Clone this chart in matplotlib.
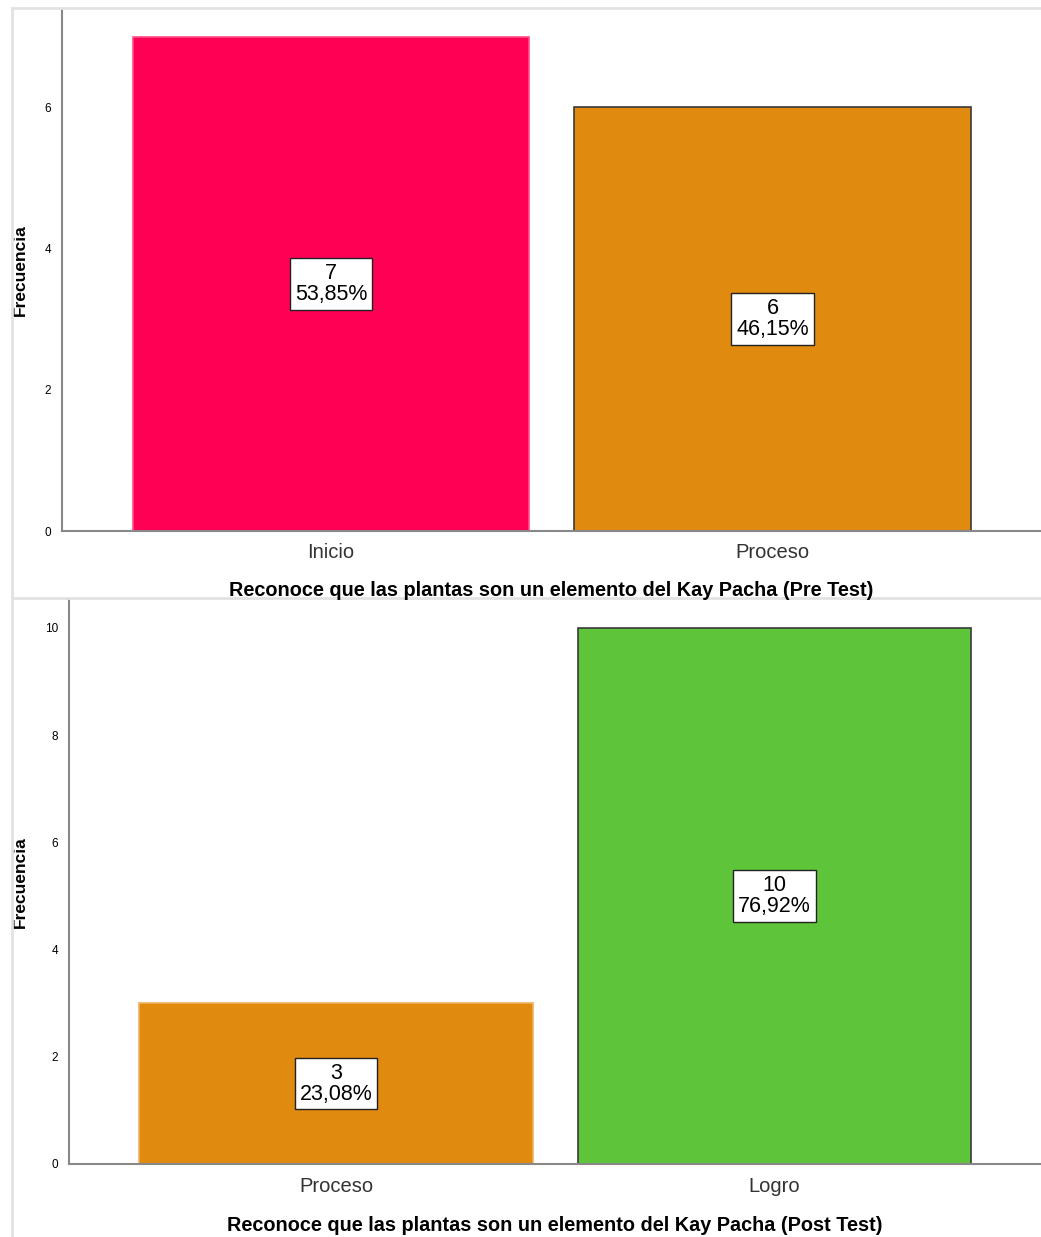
import matplotlib
matplotlib.use("Agg")
import matplotlib.pyplot as plt
from matplotlib.lines import Line2D

plt.rcParams["font.family"] = ["Liberation Sans", "DejaVu Sans"]

# Datos
pre_categorias = ["Inicio", "Proceso"]
pre_frecuencias = [7, 6]
pre_porcentajes = ["53,85%", "46,15%"]
pre_colores = ["#FF0054", "#E08A10"]
pre_bordes = ["#FF4D85", "#3A3A3A"]
pre_titulo = "Reconoce que las plantas son un elemento del Kay Pacha (Pre Test)"

post_categorias = ["Proceso", "Logro"]
post_frecuencias = [3, 10]
post_porcentajes = ["23,08%", "76,92%"]
post_colores = ["#E08A10", "#5EC43A"]
post_bordes = ["#F0B060", "#3A3A3A"]
post_titulo = "Reconoce que las plantas son un elemento del Kay Pacha (Post Test)"

W, H = 1041, 1237
fig = plt.figure(figsize=(W / 100, H / 100), dpi=100)

# Marcos grises de los paneles
gris = "#E2E2E2"
fig.add_artist(Line2D([12 / W, 12 / W], [0, 1 - 8 / H], color=gris, lw=2))
fig.add_artist(Line2D([12 / W, 1], [1 - 8 / H, 1 - 8 / H], color=gris, lw=2))
fig.add_artist(Line2D([12 / W, 1], [1 - 598 / H, 1 - 598 / H], color=gris, lw=2))


def caja(px_left, px_top, px_right, px_bottom):
    return [px_left / W, 1 - px_bottom / H, (px_right - px_left) / W, (px_bottom - px_top) / H]


def panel(ax, cats, vals, pcts, colores, bordes, titulo, ymax, yticks, y_titulo):
    x = list(range(len(cats)))
    ax.bar(x, vals, width=0.898, color=colores, edgecolor=bordes, linewidth=1.2, zorder=2)
    for xi, v, p in zip(x, vals, pcts):
        ax.text(xi, v / 2, f"{v}\n{p}", ha="center", va="center", fontsize=15.5,
                linespacing=1.0, zorder=5,
                bbox=dict(boxstyle="square,pad=0.22", fc="white", ec="#222222", lw=1))
    ax.set_xlim(-0.609, 1.608)
    ax.set_ylim(0, ymax)
    ax.set_yticks(yticks)
    ax.set_xticks(x)
    ax.set_xticklabels(cats, fontsize=14.5, color="#333333")
    ax.tick_params(axis="y", length=0, labelsize=8.5, pad=8)
    ax.tick_params(axis="x", length=0, pad=9)
    for s in ("top", "right"):
        ax.spines[s].set_visible(False)
    for s in ("left", "bottom"):
        ax.spines[s].set_color("#888888")
        ax.spines[s].set_linewidth(1.5)
    ax.set_ylabel("Frecuencia", fontsize=12.5, fontweight="bold", va="center")
    bb = ax.get_position()
    ax.yaxis.set_label_coords((20 / W - bb.x0) / bb.width, 0.5)
    # título del eje x (línea base en píxeles de la figura)
    fig.text((bb.x0 + bb.x1) / 2, 1 - y_titulo / H, titulo, ha="center", va="baseline",
             fontsize=14.3, fontweight="bold", zorder=10)


ax1 = fig.add_axes(caja(62, 10, 1041, 531))
panel(ax1, pre_categorias, pre_frecuencias, pre_porcentajes, pre_colores, pre_bordes,
      pre_titulo, 7.38, [0, 2, 4, 6], 596)

ax2 = fig.add_axes(caja(69, 600, 1041, 1164))
panel(ax2, post_categorias, post_frecuencias, post_porcentajes, post_colores, post_bordes,
      post_titulo, 10.52, [0, 2, 4, 6, 8, 10], 1231)

fig.savefig("out.png", dpi=100, facecolor="white")
